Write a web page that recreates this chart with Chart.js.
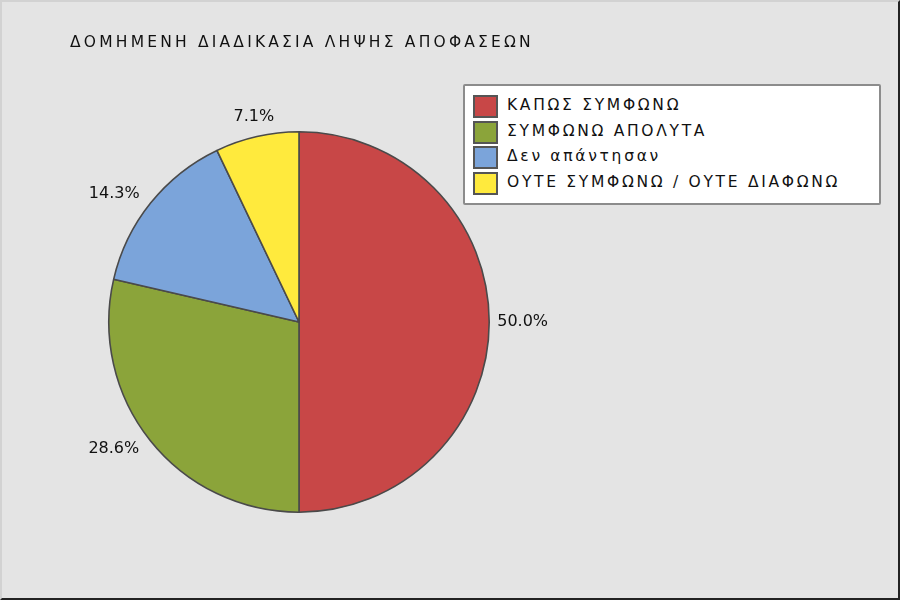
<!DOCTYPE html>
<html>
<head>
<meta charset="utf-8">
<script src="https://cdn.jsdelivr.net/npm/chart.js@4.4.1/dist/chart.umd.min.js"></script>
<style>
  html, body { margin: 0; padding: 0; }
  body { width: 900px; height: 600px; overflow: hidden; }
  #frame {
    position: relative; width: 900px; height: 600px; box-sizing: border-box;
    background: #e4e4e4;
    border-top: 2px solid #d2d2d2; border-left: 2px solid #d2d2d2;
    border-right: 2px solid #222; border-bottom: 2px solid #222;
    font-family: "DejaVu Sans", sans-serif;
  }
  #title {
    position: absolute; left: 68px; top: 31px;
    font-size: 15.5px; letter-spacing: 3.2px; color: #111;
  }
  #legend {
    position: absolute; left: 461px; top: 82px; width: 414px; height: 117px;
    background: #fff; border: 2px solid #8c8c8c; border-radius: 2px;
  }
  .row { position: absolute; left: 8px; height: 22px; font-size: 15.5px; letter-spacing: 2.7px; color: #111; }
  .sw { position: absolute; left: 0; top: 1px; width: 21px; height: 19px; border: 2px solid #555; box-sizing: content-box; }
  .tx { position: absolute; left: 34px; top: 0; white-space: nowrap; line-height: 22px; }
  #wrap { position: absolute; left: -2px; top: -2px; width: 900px; height: 600px; }
</style>
</head>
<body>
<div id="frame">
  <div id="wrap"><canvas id="myChart" width="900" height="600"></canvas></div>
  <div id="title">ΔΟΜΗΜΕΝΗ ΔΙΑΔΙΚΑΣΙΑ ΛΗΨΗΣ ΑΠΟΦΑΣΕΩΝ</div>
  <div id="legend"></div>
</div>
<script>
var labels = ["ΚΑΠΩΣ ΣΥΜΦΩΝΩ", "ΣΥΜΦΩΝΩ ΑΠΟΛΥΤΑ", "Δεν απάντησαν", "ΟΥΤΕ ΣΥΜΦΩΝΩ / ΟΥΤΕ ΔΙΑΦΩΝΩ"];
var values = [50.0, 28.6, 14.3, 7.1];
var valueLabels = ["50.0%", "28.6%", "14.3%", "7.1%"];
var colors = ["#c84747", "#8ba43a", "#7ba4da", "#ffea3d"];

(function(){
    var legend = document.getElementById("legend");
    labels.forEach(function(l, i){
        var row = document.createElement("div");
        row.className = "row";
        row.style.top = (8 + i * 25.5) + "px";
        row.innerHTML = "<div class='sw' style='background:" + colors[i] + "'></div><div class='tx'></div>";
        row.querySelector(".tx").textContent = l;
        legend.appendChild(row);
    });

    // percentage labels placed outside each slice, using arc geometry
    var outsideLabels = {
        id: "outsideLabels",
        afterDatasetsDraw: function(chart){
            var ctx = chart.ctx;
            var meta = chart.getDatasetMeta(0);
            ctx.save();
            ctx.font = "16px 'DejaVu Sans'";
            ctx.fillStyle = "#111";
            ctx.textBaseline = "middle";
            meta.data.forEach(function(arc, i){
                var mid = (arc.startAngle + arc.endAngle) / 2;
                var r = arc.outerRadius + 14;
                var x = arc.x + Math.cos(mid) * r;
                var y = arc.y + Math.sin(mid) * r;
                var c = Math.cos(mid);
                ctx.textAlign = c > 0.3 ? "left" : (c < -0.3 ? "right" : "center");
                if (ctx.textAlign === "center") y -= 6;
                if (ctx.textAlign === "left") x -= 6;
                ctx.fillText(valueLabels[i], x, y);
            });
            ctx.restore();
        }
    };

    var ctx = document.getElementById("myChart").getContext("2d");
    var myChart = new Chart(ctx, {
        type: "pie",
        data: {
            labels: labels,
            datasets: [{ data: values, backgroundColor: colors, borderColor: "#4a4a4a", borderWidth: 1.6 }]
        },
        options: {
            responsive: false,
            animation: false,
            layout: { padding: { left: 108, right: 410, top: 131, bottom: 87 } },
            plugins: { legend: { display: false }, tooltip: { enabled: false }, title: { display: false } }
        },
        plugins: [outsideLabels]
    });
})();
</script>
</body>
</html>
